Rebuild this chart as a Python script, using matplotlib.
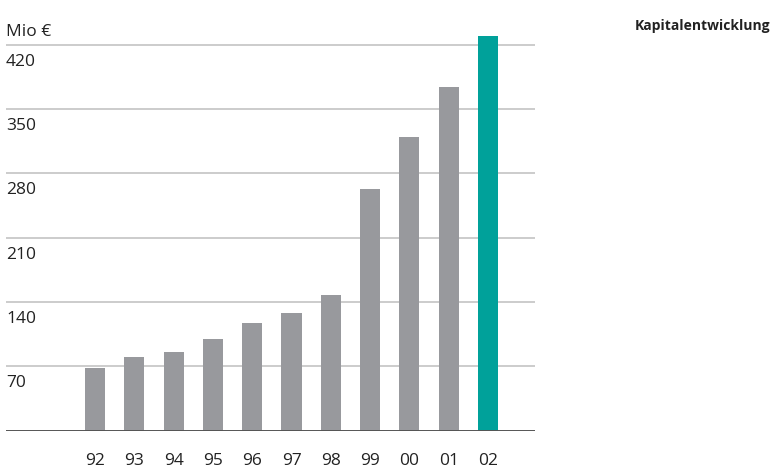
import matplotlib.pyplot as plt
import matplotlib.transforms as mtransforms

plt.rcParams['font.family'] = ['Open Sans', 'DejaVu Sans']

years = ['92', '93', '94', '95', '96', '97', '98', '99', '00', '01', '02']
capital = [68, 80, 85.5, 99.5, 117, 128, 147.5, 263, 319.5, 374, 430]
y_ticks = [70, 140, 210, 280, 350, 420]

grey = '#98999d'
teal = '#00a19a'
text_col = '#222222'

fig = plt.figure(figsize=(7.73, 4.71), dpi=100)
ax = fig.add_axes([6 / 773, (471 - 430.5) / 471, (535 - 6) / 773, (430.5 - 30) / 471])

x = list(range(len(years)))
colors = [grey] * (len(years) - 1) + [teal]
ax.bar(x, capital, width=0.51, color=colors, zorder=2)

ax.set_xlim(-2.265, 11.196)
ax.set_ylim(0, 436)

# horizontal grid and darker baseline
for v in y_ticks:
    ax.axhline(v, color='#c4c4c4', linewidth=1.2, zorder=1)
ax.axhline(0, color='#555555', linewidth=1.4, zorder=3)

for s in ax.spines.values():
    s.set_visible(False)
ax.set_xticks([])
ax.set_yticks([])

# value labels sit just below their gridline, flush left
trans = mtransforms.blended_transform_factory(ax.transAxes, ax.transData)
for v in y_ticks:
    ax.text(0, v - 10, str(v), transform=trans, ha='left', va='top',
            fontsize=12.5, color=text_col)

# year labels along the bottom edge of the figure
for xi, yr in zip(x, years):
    ax.text(xi, -42, yr, ha='center', va='bottom', fontsize=12.5,
            color=text_col, clip_on=False)

fig.text(6 / 773, 1 - 32 / 471, 'Mio €', ha='left', va='center',
         fontsize=12.5, color=text_col)
fig.text(770 / 773, 1 - 26 / 471, 'Kapitalentwicklung', ha='right',
         va='center', fontsize=10, fontweight='bold', color=text_col)

fig.savefig('out.png', dpi=100)
